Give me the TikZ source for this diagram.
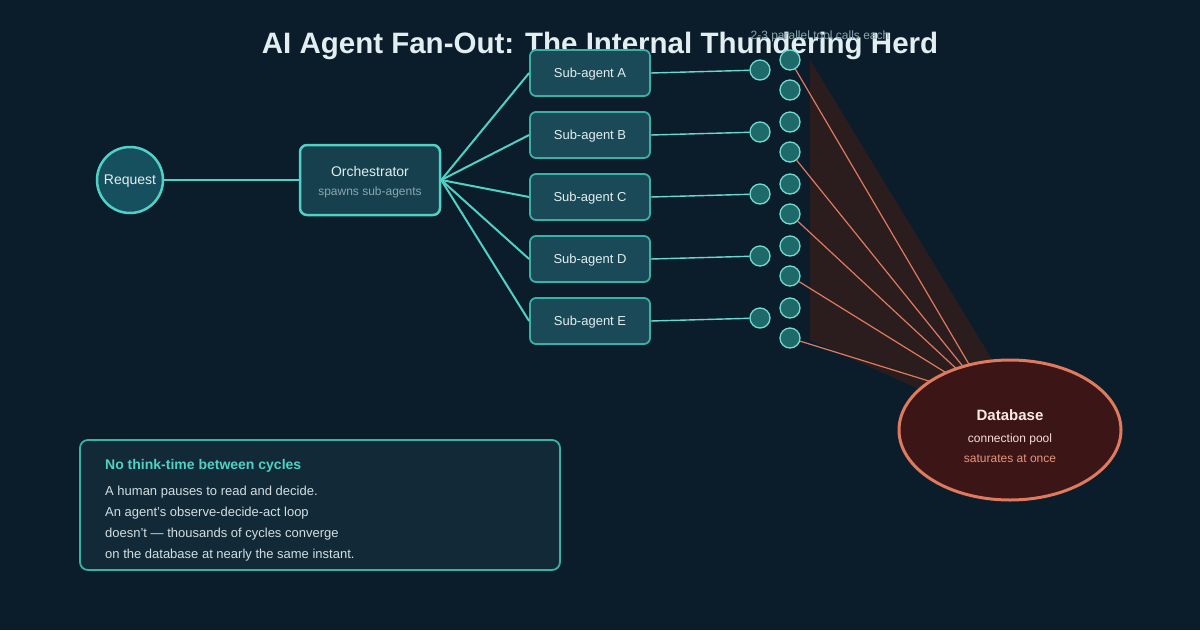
\documentclass[tikz,border=0pt]{standalone}
\usepackage{fontspec}
\setmainfont{Liberation Sans}
\usetikzlibrary{shapes.geometric}
\definecolor{bg}{HTML}{0B1D2B}
\definecolor{teal}{HTML}{4FD1C5}
\definecolor{tealdim}{HTML}{3BB0A4}
\definecolor{reqfill}{HTML}{16505E}
\definecolor{orchfill}{HTML}{17404F}
\definecolor{subfill}{HTML}{1A4A58}
\definecolor{callfill}{HTML}{1E6A6A}
\definecolor{coral}{HTML}{E07A5F}
\definecolor{dbfill}{HTML}{3C1516}
\definecolor{wedge}{HTML}{2B1C1E}
\definecolor{titlec}{HTML}{E2EEF0}
\definecolor{subtle}{HTML}{8AA6AE}
\definecolor{notefill}{HTML}{122A37}
\definecolor{bodyc}{HTML}{D2DEE2}
\tikzset{
  conn/.style={draw=teal, line width=2pt},
  thin conn/.style={draw=teal!85!white, line width=1.4pt},
  herd/.style={draw=coral, line width=1.2pt},
  subbox/.style={draw=tealdim, fill=subfill, line width=1.8pt, rounded corners=6pt, minimum width=120pt, minimum height=46pt},
  subtext/.style={text=titlec, font=\fontsize{13}{15}\selectfont},
  call/.style={circle, draw=teal!80!white, fill=callfill, line width=1.3pt, minimum size=20pt, inner sep=0pt},
  notetext/.style={anchor=west, inner sep=0pt, font=\fontsize{13}{15}\selectfont, text=bodyc},
}
\begin{document}
\begin{tikzpicture}[x=1pt,y=-1pt]
\fill[bg] (0,0) rectangle (1200,630);
\useasboundingbox (0,0) rectangle (1200,630);
% wedge
\fill[wedge] (810,60) -- (810,340) -- (1010,430) -- (1035,430) -- cycle;
% title
\node[font=\fontsize{29.5}{34}\bfseries\selectfont, text=titlec] (title) at (600,46) {AI Agent Fan-Out: The Internal Thundering Herd};
\node[font=\fontsize{12}{14}\selectfont, text=subtle] (calls) at (820,36) {2-3 parallel tool calls each};
% request and orchestrator
\node[circle, draw=teal, fill=reqfill, line width=2.5pt, minimum size=66pt, inner sep=0pt] (req) at (130,180) {};
\node[text=titlec, font=\fontsize{14}{16}\selectfont] (reqt) at (130,181.5) {Request};
\node[draw=teal, fill=orchfill, line width=2.5pt, rounded corners=7pt, minimum width=140pt, minimum height=70pt] (orch) at (370,180) {};
\node[text=titlec, font=\fontsize{14}{16}\selectfont] (orcht) at (370,171.5) {Orchestrator};
\node[text=subtle, font=\fontsize{12}{14}\selectfont] (orchs) at (370,192) {spawns sub-agents};
\draw[conn] (req.east) -- (orch.west);
% sub-agents
\foreach \n/\l [count=\i from 0] in {A/A,B/B,C/C,D/D,E/E}{
  \node[subbox] (sa\n) at (590,73+62*\i) {};
  \node[subtext] (sat\n) at (590,74.5+62*\i) {Sub-agent \l};
  \draw[conn] (orch.east) -- (sa\n.west);
  \node[call] (c\n) at (760,70+62*\i) {};
  \draw[thin conn] (sa\n.east) -- (c\n);
  \node[call] (d\n1) at (790,60+62*\i) {};
  \node[call] (d\n2) at (790,90+62*\i) {};
}
% herd lines
\coordinate (hub) at (990,400);
\foreach \d in {dA1,dB2,dC2,dD2,dE2}{
  \draw[herd] (\d) -- (hub);
}
% database
\node[ellipse, draw=coral, fill=dbfill, line width=3pt, minimum width=222pt, minimum height=140pt] (db) at (1010,430) {};
\node[font=\fontsize{15}{17}\bfseries\selectfont, text=white!85!coral] (dbt) at (1010,415) {Database};
\node[font=\fontsize{12}{14}\selectfont, text=white!75!coral] (dbs1) at (1010,439) {connection pool};
\node[font=\fontsize{12}{14}\selectfont, text=coral!80!white] (dbs2) at (1010,459) {saturates at once};
% note
\node[draw=tealdim, fill=notefill, line width=1.8pt, rounded corners=8pt, minimum width=480pt, minimum height=130pt] (note) at (320,505) {};
\node[anchor=west, inner sep=0pt, font=\fontsize{14}{16}\bfseries\selectfont, text=teal] (nt) at (105,466) {No think-time between cycles};
\node[notetext] (n1) at (105,492) {A human pauses to read and decide.};
\node[notetext] (n2) at (105,513) {An agent's observe-decide-act loop};
\node[notetext] (n3) at (105,534) {doesn't — thousands of cycles converge};
\node[notetext] (n4) at (105,555) {on the database at nearly the same instant.};
\end{tikzpicture}
\end{document}
